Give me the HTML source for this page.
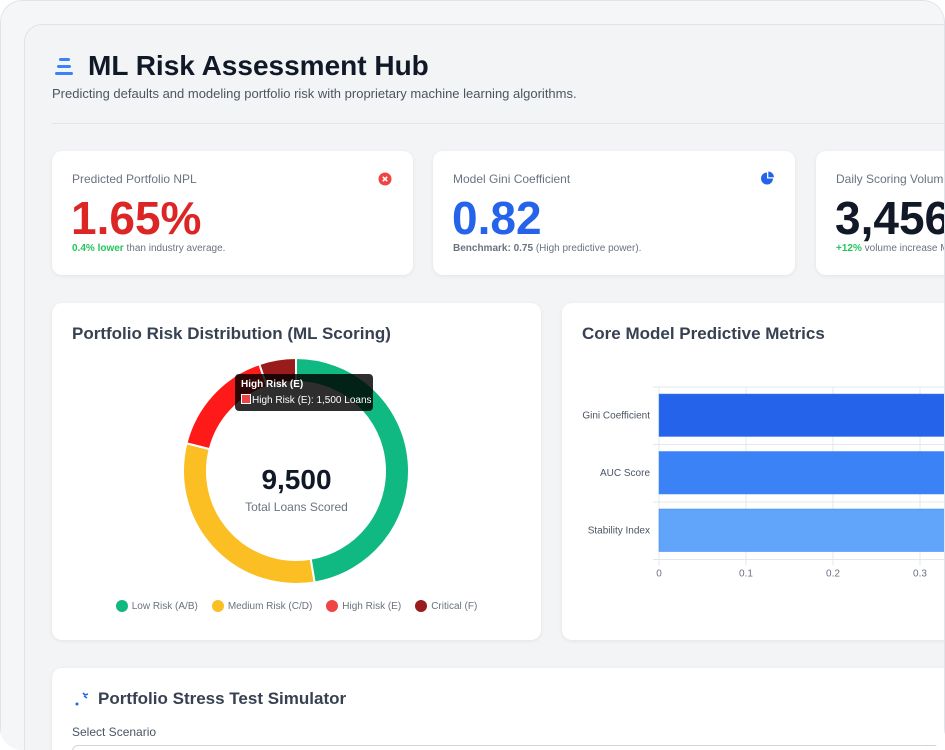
<!DOCTYPE html>
<html><head><meta charset="utf-8">
<style>
*{box-sizing:border-box;margin:0;padding:0}
html,body{width:945px;height:750px;overflow:hidden;background:#fff;font-family:"Liberation Sans",Arial,sans-serif}
#frame{position:absolute;left:0;top:0;width:945px;height:750px;border-radius:22px;background:#f5f6f8;overflow:hidden}
#frameborder{position:absolute;left:0;top:0;width:945px;height:770px;border:1px solid #dfe3ea;border-radius:22px;pointer-events:none}
#panel{position:absolute;left:24px;top:24px;width:1000px;height:800px;border:1px solid #dfe3ea;border-radius:18px;background:#f3f4f6}
.abs{position:absolute}
.card{position:absolute;background:#fff;border-radius:10px;box-shadow:0 1px 4px rgba(0,0,0,.07)}
.klabel{position:absolute;left:20px;top:21px;font-size:12px;color:#6b7280}
.kval{position:absolute;left:19px;top:40px;font-size:46px;font-weight:bold}
.ksub{position:absolute;left:20px;top:92px;font-size:10px;color:#6b7280}
.ctitle{position:absolute;left:20px;top:21px;font-size:17px;font-weight:bold;color:#374151}
</style></head><body>
<div id="frame">
<div id="panel"></div>

<svg class="abs" style="left:55px;top:57px" width="20" height="20">
<rect x="4" y="1" width="11" height="3" rx="1.5" fill="#3b82f6"/><rect x="2" y="8" width="14" height="3" rx="1.5" fill="#3b82f6"/><rect x="0" y="15" width="18" height="3" rx="1.5" fill="#3b82f6"/></svg>
<div class="abs" style="left:88px;top:50px;font-size:28px;font-weight:bold;color:#111827">ML Risk Assessment Hub</div>
<div class="abs" style="left:52px;top:86px;font-size:13px;color:#4b5563">Predicting defaults and modeling portfolio risk with proprietary machine learning algorithms.</div>
<div class="abs" style="left:52px;top:123px;width:900px;height:1px;background:#e2e5ea"></div>

<div class="card" style="left:52px;top:151px;width:361px;height:124px">
<div class="klabel">Predicted Portfolio NPL</div>
<svg class="abs" style="left:326px;top:21px" width="14" height="14"><circle cx="7" cy="7" r="6.5" fill="#ef4444"/><path d="M4.8 4.8L9.2 9.2M9.2 4.8L4.8 9.2" stroke="#fff" stroke-width="1.6"/></svg>
<div class="kval" style="color:#dc2626">1.65%</div>
<div class="ksub"><b style="color:#22c55e">0.4% lower</b> than industry average.</div></div>

<div class="card" style="left:433px;top:151px;width:362px;height:124px">
<div class="klabel">Model Gini Coefficient</div>
<svg class="abs" style="left:327px;top:20px" width="15" height="15"><path d="M7 1.5A6 6 0 1 0 13 7.5H7Z" fill="#2563eb"/><path d="M8.3 0.5A6 6 0 0 1 14 6.3H8.3Z" fill="#2563eb"/></svg>
<div class="kval" style="color:#2563eb">0.82</div>
<div class="ksub"><b>Benchmark: 0.75</b> (High predictive power).</div></div>

<div class="card" style="left:816px;top:151px;width:362px;height:124px">
<div class="klabel">Daily Scoring Volume</div>
<div class="kval" style="color:#111827">3,456</div>
<div class="ksub"><b style="color:#22c55e">+12%</b> volume increase MoM.</div></div>

<div class="card" style="left:52px;top:303px;width:489px;height:337px">
<div class="ctitle">Portfolio Risk Distribution (ML Scoring)</div>
<svg id="donut" class="abs" style="left:0;top:0" width="489" height="337"></svg>
<div class="abs" style="left:0;width:489px;top:161px;text-align:center;font-size:28px;font-weight:bold;color:#111827">9,500</div>
<div class="abs" style="left:0;width:489px;top:197px;text-align:center;font-size:12px;color:#6b7280">Total Loans Scored</div>
<div class="abs" style="left:183px;top:71px;width:138px;height:37px;background:rgba(0,0,0,.82);border-radius:4px;color:#fff;font-size:10px">
<div style="position:absolute;left:6px;top:5px;font-weight:bold">High Risk (E)</div>
<div style="position:absolute;left:6px;top:20px;width:10px;height:10px;background:#ef4444;border:1px solid #fff"></div>
<div style="position:absolute;left:17px;top:21px">High Risk (E): 1,500 Loans</div></div>
<div id="legend" class="abs" style="left:0;width:489px;top:297px;display:flex;justify-content:center;gap:14px;font-size:10px;color:#6b7280"></div>
</div>

<div class="card" style="left:562px;top:303px;width:500px;height:337px">
<div class="ctitle">Core Model Predictive Metrics</div>
<svg id="bars" class="abs" style="left:0;top:0" width="500" height="337"></svg>
</div>

<div class="card" style="left:52px;top:668px;width:1000px;height:120px">
<svg class="abs" style="left:22px;top:23px" width="16" height="16"><circle cx="3" cy="13" r="1.5" fill="#2563eb"/><path d="M9 2l2 2M11 4l3 -1M10 5l3 2" stroke="#2563eb" stroke-width="1.6"/></svg>
<div class="abs" style="left:46px;top:21px;font-size:17px;font-weight:bold;color:#374151">Portfolio Stress Test Simulator</div>
<div class="abs" style="left:20px;top:57px;font-size:12px;color:#4b5563">Select Scenario</div>
<div class="abs" style="left:20px;top:77px;width:960px;height:36px;border:1px solid #d1d5db;border-radius:6px"></div>
</div>
<div id="frameborder"></div>
</div>

<script>
const NS='http://www.w3.org/2000/svg';
const riskLabels=['Low Risk (A/B)','Medium Risk (C/D)','High Risk (E)','Critical (F)'];
const riskValues=[4500,3000,1500,500];
const riskColors=['#10b981','#fbbf24','#ef4444','#991b1b'];
const metricLabels=['Gini Coefficient','AUC Score','Stability Index'];
const metricValues=[0.82,0.91,0.88];
const metricColors=['#2563eb','#3b82f6','#60a5fa'];
const xTicks=[0,0.1,0.2,0.3,0.4,0.5,0.6,0.7,0.8,0.9,1];

function mk(t,a,p){const e=document.createElementNS(NS,t);for(const k in a)e.setAttribute(k,a[k]);p.appendChild(e);return e;}

const d=document.getElementById('donut');
const cx=244,cy=168,R=113,r=89;
const total=riskValues.reduce((a,b)=>a+b,0);
let ang=0;
function pt(a,rad){return [cx+rad*Math.sin(a),cy-rad*Math.cos(a)];}
riskValues.forEach((v,i)=>{
  const a0=ang,a1=ang+v/total*2*Math.PI;ang=a1;
  const big=(a1-a0)>Math.PI?1:0;
  const [x0,y0]=pt(a0,R),[x1,y1]=pt(a1,R),[x2,y2]=pt(a1,r),[x3,y3]=pt(a0,r);
  const p=mk('path',{d:`M${x0} ${y0}A${R} ${R} 0 ${big} 1 ${x1} ${y1}L${x2} ${y2}A${r} ${r} 0 ${big} 0 ${x3} ${y3}Z`,fill:i==2?'#ff1a1a':riskColors[i],stroke:'#fff','stroke-width':2},d);
  
  
});
const lg=document.getElementById('legend');
riskLabels.forEach((l,i)=>{
  const s=document.createElement('span');
  
  
  s.style.display='flex';s.style.alignItems='center';s.style.gap='4px';
  s.innerHTML=`<i style="display:inline-block;width:12px;height:12px;border-radius:50%;background:${riskColors[i]}"></i>${l}`;
  lg.appendChild(s);
});

const b=document.getElementById('bars');
const x0=97,pxPer=870,yTop=84,bandH=57.5;
const X=v=>x0+v*pxPer;
xTicks.forEach(t=>{
  mk('line',{x1:X(t),x2:X(t),y1:yTop,y2:yTop+3*bandH+6,stroke:'#e5e7eb'},b);
  const tx=mk('text',{x:X(t),y:yTop+3*bandH+17,'font-size':10,fill:'#6b7280','text-anchor':'middle','font-family':'Liberation Sans'},b);
  tx.textContent=t;
  
  
});
for(let i=0;i<=3;i++)mk('line',{x1:x0-6,x2:X(1),y1:yTop+i*bandH,y2:yTop+i*bandH,stroke:'#e5e7eb'},b);
metricValues.forEach((v,i)=>{
  const y=yTop+i*bandH+7;
  const rc=mk('rect',{x:x0,y:y,width:X(v)-x0,height:bandH-15,fill:metricColors[i],stroke:'#3b82f6','stroke-width':0.5},b);
  
  
  const tx=mk('text',{x:x0-9,y:y+(bandH-15)/2+3,'font-size':10,fill:'#4b5563','text-anchor':'end','font-family':'Liberation Sans'},b);
  tx.textContent=metricLabels[i];
  
  
});
</script>
</body></html>
